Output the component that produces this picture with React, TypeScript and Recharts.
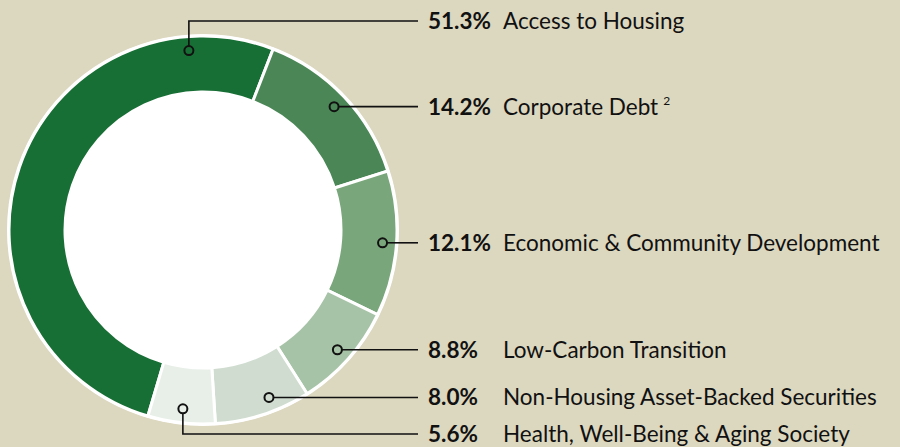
import { PieChart, Pie, Cell } from 'recharts'

const categories = [
  'Access to Housing',
  'Corporate Debt',
  'Economic & Community Development',
  'Low-Carbon Transition',
  'Non-Housing Asset-Backed Securities',
  'Health, Well-Being & Aging Society',
]
const shares = [51.3, 14.2, 12.1, 8.8, 8.0, 5.6]
const footnotes = ['', '2', '', '', '', '']

const COLORS = ['#186f35', '#4b8756', '#79a67b', '#a7c3a7', '#cfdccf', '#e8efe8']
const BG = '#dcd7bf'
const FONT = 'Lato, "Open Sans", sans-serif'

const data = categories.map((name, i) => ({ name, value: shares[i] }))
const disk = [{ name: 'disk', value: 1 }]

const RAD = Math.PI / 180
const MARKER_R = 180
const LINE_END = 418
const PCT_X = 428
const NAME_X = 503

// marker angle tweaks; first and last labels sit above / below the ring, reached by an elbow
const anchors: Record<number, { angle?: number; y?: number }> = {
  0: { angle: 94.5, y: 21 },
  4: { angle: -68.5 },
  5: { y: 434 },
}

function renderLabel(props: any) {
  const { cx, cy, midAngle, index } = props
  const a = anchors[index]
  const angle = a?.angle ?? midAngle
  const mx = cx + MARKER_R * Math.cos(-angle * RAD)
  const my = cy + MARKER_R * Math.sin(-angle * RAD)
  let d: string
  let ly = my
  if (a?.y !== undefined) {
    ly = a.y
    const sy = ly < my ? my - 4.5 : my + 4.5
    d = `M${mx},${sy} V${ly} H${LINE_END}`
  } else {
    d = `M${mx + 4.5},${my} H${LINE_END}`
  }
  return (
    <g key={`label-${index}`}>
      <path d={d} stroke="#111" strokeWidth={1.6} fill="none" />
      <circle cx={mx} cy={my} r={4.5} stroke="#111" strokeWidth={2} fill="none" />
      <text
        x={PCT_X}
        y={ly + 8}
        fontFamily={FONT}
        fontSize={22.5}
        fontWeight={700}
        fill="#111"
      >
        {shares[index].toFixed(1)}%
      </text>
      <text x={NAME_X} y={ly + 8} fontFamily={FONT} fontSize={22.5} fill="#111">
        {categories[index]}
        {footnotes[index] && (
          <tspan fontSize={12} dx={5} dy={-10}>
            {footnotes[index]}
          </tspan>
        )}
      </text>
    </g>
  )
}

export default function App() {
  return (
    <div style={{ position: 'fixed', left: 0, top: 0, width: 900, height: 447, background: BG }}>
      <PieChart width={900} height={447} margin={{ top: 0, right: 0, bottom: 0, left: 0 }}>
        <Pie
          data={disk}
          dataKey="value"
          cx={203}
          cy={230}
          innerRadius={0}
          outerRadius={196}
          fill="#ffffff"
          stroke="none"
          isAnimationActive={false}
        />
        <Pie
          data={data}
          dataKey="value"
          cx={203}
          cy={230}
          innerRadius={138}
          outerRadius={194}
          startAngle={253.5}
          endAngle={-106.5}
          stroke="#ffffff"
          strokeWidth={3}
          label={renderLabel}
          labelLine={false}
          isAnimationActive={false}
        >
          {data.map((entry, index) => (
            <Cell key={`cell-${index}`} fill={COLORS[index]} />
          ))}
        </Pie>
      </PieChart>
    </div>
  )
}
